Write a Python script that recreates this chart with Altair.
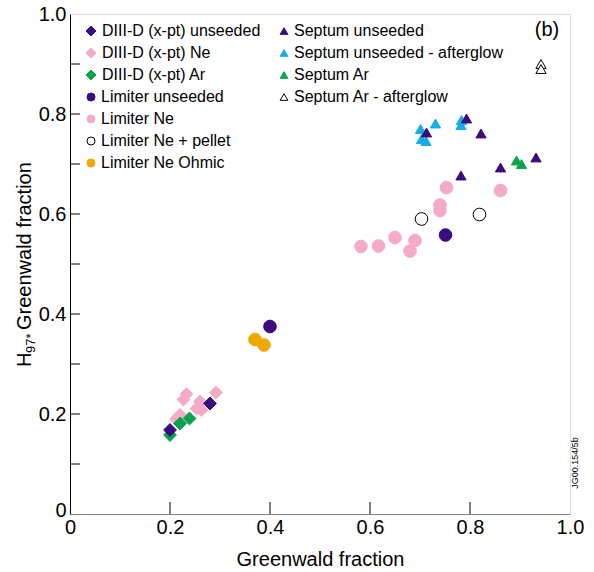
import altair as alt
import pandas as pd

# ---------------- data ----------------
diiid_unseeded_x = [0.200, 0.280]
diiid_unseeded_y = [0.168, 0.221]
diiid_ne_x = [0.233, 0.227, 0.292, 0.260, 0.263, 0.253, 0.220, 0.212]
diiid_ne_y = [0.240, 0.229, 0.243, 0.225, 0.208, 0.211, 0.198, 0.190]
diiid_ar_x = [0.200, 0.220, 0.239]
diiid_ar_y = [0.158, 0.181, 0.191]
lim_unseeded_x = [0.400, 0.751]
lim_unseeded_y = [0.375, 0.558]
lim_ne_x = [0.582, 0.617, 0.650, 0.690, 0.680, 0.740, 0.740, 0.753, 0.861]
lim_ne_y = [0.535, 0.536, 0.553, 0.547, 0.526, 0.607, 0.618, 0.653, 0.647]
lim_pellet_x = [0.703, 0.819]
lim_pellet_y = [0.590, 0.599]
lim_ohmic_x = [0.370, 0.388]
lim_ohmic_y = [0.349, 0.338]

sep_unseeded_x = [0.713, 0.793, 0.822, 0.782, 0.861, 0.932]
sep_unseeded_y = [0.763, 0.791, 0.761, 0.677, 0.693, 0.713]
sep_after_x = [0.701, 0.731, 0.703, 0.712, 0.783, 0.782]
sep_after_y = [0.770, 0.781, 0.750, 0.746, 0.788, 0.778]
sep_ar_x = [0.893, 0.903]
sep_ar_y = [0.707, 0.700]
sep_ar_after_x = [0.942, 0.942]
sep_ar_after_y = [0.900, 0.890]

diiid_names = ["DIII-D (x-pt) unseeded", "DIII-D (x-pt) Ne", "DIII-D (x-pt) Ar"]
diiid_fill = ["#3c0b7d", "#f5aac7", "#0aa24a"]
diiid_stroke = ["#3c0b7d", "#f5aac7", "#0aa24a"]

lim_names = ["Limiter unseeded", "Limiter Ne", "Limiter Ne + pellet", "Limiter Ne Ohmic"]
lim_fill = ["#3c0b7d", "#f5aac7", "#ffffff", "#f0a800"]
lim_stroke = ["#3c0b7d", "#f5aac7", "#000000", "#f0a800"]

sep_names = ["Septum unseeded", "Septum unseeded - afterglow", "Septum Ar", "Septum Ar - afterglow"]
sep_fill = ["#3c0b7d", "#14ade8", "#0aa24a", "#ffffff"]
sep_stroke = ["#3c0b7d", "#14ade8", "#0aa24a", "#000000"]

axis_values = [0, 0.2, 0.4, 0.6, 0.8, 1.0]
x_tick_positions = [0.2, 0.4, 0.6, 0.8]
y_tick_positions = [0.1, 0.2, 0.3, 0.4, 0.5, 0.6, 0.7, 0.8, 0.9]

FONT = "Liberation Sans"


def frame(name, xs, ys):
    return pd.DataFrame({"series": name, "x": xs, "y": ys})


df_diiid = pd.concat([
    frame("DIII-D (x-pt) Ne", diiid_ne_x, diiid_ne_y),
    frame("DIII-D (x-pt) Ar", diiid_ar_x, diiid_ar_y),
    frame("DIII-D (x-pt) unseeded", diiid_unseeded_x, diiid_unseeded_y),
], ignore_index=True)

df_lim = pd.concat([
    frame("Limiter Ne", lim_ne_x, lim_ne_y),
    frame("Limiter unseeded", lim_unseeded_x, lim_unseeded_y),
    frame("Limiter Ne Ohmic", lim_ohmic_x, lim_ohmic_y),
    frame("Limiter Ne + pellet", lim_pellet_x, lim_pellet_y),
], ignore_index=True)

df_sep = pd.concat([
    frame("Septum unseeded - afterglow", sep_after_x, sep_after_y),
    frame("Septum unseeded", sep_unseeded_x, sep_unseeded_y),
    frame("Septum Ar", sep_ar_x, sep_ar_y),
    frame("Septum Ar - afterglow", sep_ar_after_x, sep_ar_after_y),
], ignore_index=True)

xscale = alt.Scale(domain=[0, 1], nice=False, zero=False)
yscale = alt.Scale(domain=[0, 1], nice=False, zero=False)
label_expr = "datum.value == 0 ? '0' : format(datum.value, '.1f')"

x_enc = alt.X("x:Q", scale=xscale,
              axis=alt.Axis(values=axis_values, labelExpr=label_expr, title="Greenwald fraction",
                            ticks=False, tickSize=0, grid=False, labelPadding=3, labelFlush=False,
                            labelFontSize=20, titleFontSize=20, titleFontWeight="normal",
                            titlePadding=12, domainColor="#808080", labelColor="#000",
                            titleColor="#000", labelFont=FONT, titleFont=FONT))
y_enc = alt.Y("y:Q", scale=yscale,
              axis=alt.Axis(values=axis_values, labelExpr=label_expr, title=None,
                            ticks=False, tickSize=0, grid=False, labelPadding=4, labelFlush=False,
                            labelOffset={"condition": {"test": "datum.value == 0", "value": -4}, "value": 0},
                            labelFontSize=20, domainColor="#000", labelColor="#000",
                            labelFont=FONT))


def legend(x, y, size, offset):
    return alt.Legend(title=None, orient="none", legendX=x, legendY=y, symbolSize=size,
                      labelFontSize=16, labelFont=FONT, labelColor="#000", rowPadding=6,
                      labelOffset=offset, padding=0, symbolStrokeWidth=1, labelLimit=400)


def points(df, names, fills, strokes, shape, size, leg):
    return alt.Chart(df).mark_point(filled=True, strokeWidth=1, opacity=1, shape=shape).encode(
        x=x_enc, y=y_enc,
        size=alt.value(size),
        fill=alt.Fill("series:N", scale=alt.Scale(domain=names, range=fills), legend=leg),
        stroke=alt.Stroke("series:N", scale=alt.Scale(domain=names, range=strokes), legend=leg),
    )


pts_diiid = points(df_diiid, diiid_names, diiid_fill, diiid_stroke, "diamond", 165,
                   legend(13, 9, 100, 3))
pts_lim = points(df_lim, lim_names, lim_fill, lim_stroke, "circle", 160,
                 legend(13, 75, 64, 2))
pts_sep = points(df_sep, sep_names, sep_fill, sep_stroke, "triangle-up", 105,
                 legend(206, 9, 60, 2))

# inward ticks
xt = alt.Chart(pd.DataFrame({"x": x_tick_positions})).mark_rule(color="#000", strokeWidth=1).encode(
    x=alt.X("x:Q", scale=xscale), y=alt.value(500), y2=alt.value(488))
yt = alt.Chart(pd.DataFrame({"y": y_tick_positions})).mark_rule(color="#000", strokeWidth=1).encode(
    y=alt.Y("y:Q", scale=yscale), x=alt.value(0), x2=alt.value(10))

# panel label and ID text
panel = alt.Chart(pd.DataFrame({"t": ["(b)"]})).mark_text(
    font=FONT, fontSize=20, color="#000", align="center", baseline="middle").encode(
    text="t:N", x=alt.value(477), y=alt.value(16))
ident = alt.Chart(pd.DataFrame({"t": ["JG00.154/5b"]})).mark_text(
    font=FONT, fontSize=9, color="#000", align="center", baseline="middle", angle=270).encode(
    text="t:N", x=alt.value(505), y=alt.value(449))

# y-axis title with subscript
yt_h = alt.Chart(pd.DataFrame({"t": ["H"]})).mark_text(
    font=FONT, fontSize=20, color="#000", align="left", baseline="alphabetic", angle=270).encode(
    text="t:N", x=alt.value(-39), y=alt.value(353))
yt_sub = alt.Chart(pd.DataFrame({"t": ["97*"]})).mark_text(
    font=FONT, fontSize=13, color="#000", align="left", baseline="alphabetic", angle=270).encode(
    text="t:N", x=alt.value(-35), y=alt.value(339))
yt_rest = alt.Chart(pd.DataFrame({"t": ["Greenwald fraction"]})).mark_text(
    font=FONT, fontSize=20, color="#000", align="left", baseline="alphabetic", angle=270).encode(
    text="t:N", x=alt.value(-39), y=alt.value(316))

chart = alt.layer(xt, yt, pts_diiid, pts_lim, pts_sep, panel, ident, yt_h, yt_sub, yt_rest).resolve_scale(
    fill="independent", stroke="independent"
).properties(
    width=500, height=500,
    autosize=alt.AutoSizeParams(type="none"),
    padding={"left": 70, "top": 14, "right": 24, "bottom": 58},
).configure_view(stroke="#333", strokeWidth=1).configure(font=FONT, background="white")

chart.save("out.html", embed_options={"renderer": "svg", "actions": False})
